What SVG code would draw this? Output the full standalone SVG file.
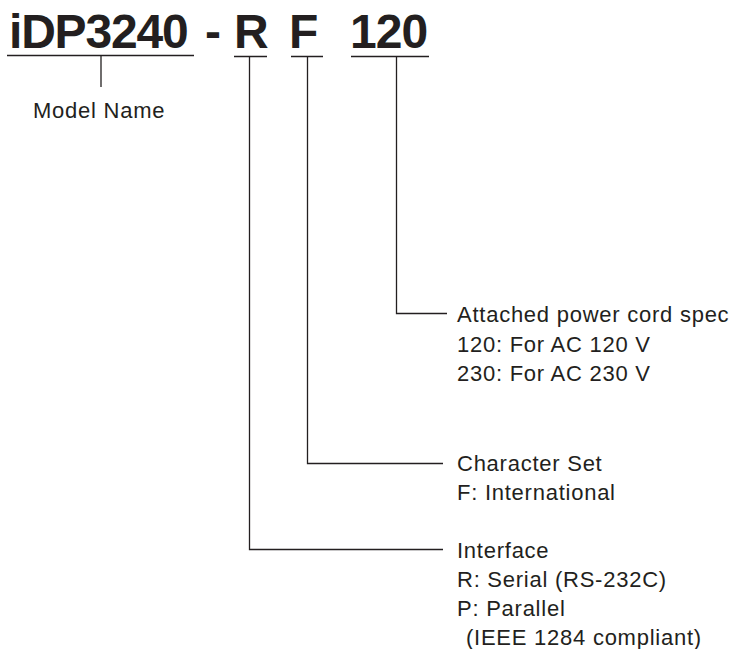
<svg xmlns="http://www.w3.org/2000/svg" width="738" height="649" viewBox="0 0 738 649">
<style>
.t{font-family:"Liberation Sans",Arial,sans-serif;font-size:22px;fill:#231f20;letter-spacing:0.75px}
.b{font-family:"Liberation Sans",Arial,sans-serif;font-size:48px;font-weight:bold;fill:#231f20}
.ln{fill:none;stroke:#231f20;stroke-width:1.3}
</style>
<rect width="738" height="649" fill="#fff"/>
<g id="code">
<text class="b" x="9" y="48" style="letter-spacing:-1.2px">iDP3240</text>
<text class="b" x="205" y="48">-</text>
<text class="b" x="234" y="48">R</text>
<text class="b" x="289" y="48">F</text>
<text class="b" x="350" y="48" style="letter-spacing:-1px">120</text>
</g>
<g id="underlines">
<path class="ln" d="M7 55.5H194M234 56.5H267M291 56.5H323M351 56.5H429"/>
</g>
<g id="connectors">
<path class="ln" d="M101 55.5V87"/>
<path class="ln" d="M396.5 56.5V313.5H447"/>
<path class="ln" d="M307.5 56.5V463.5H443"/>
<path class="ln" d="M249.5 56.5V549.5H443"/>
</g>
<g id="model-name">
<text class="t" x="33" y="118">Model Name</text>
</g>
<g id="power-cord">
<text class="t" x="457" y="322">Attached power cord spec</text>
<text class="t" x="457" y="352">120: For AC 120 V</text>
<text class="t" x="457" y="381">230: For AC 230 V</text>
</g>
<g id="character-set">
<text class="t" x="457" y="471">Character Set</text>
<text class="t" x="457" y="500">F: International</text>
</g>
<g id="interface">
<text class="t" x="457" y="558">Interface</text>
<text class="t" x="457" y="587">R: Serial (RS-232C)</text>
<text class="t" x="457" y="616">P: Parallel</text>
<text class="t" x="466" y="645">(IEEE 1284 compliant)</text>
</g>
</svg>
